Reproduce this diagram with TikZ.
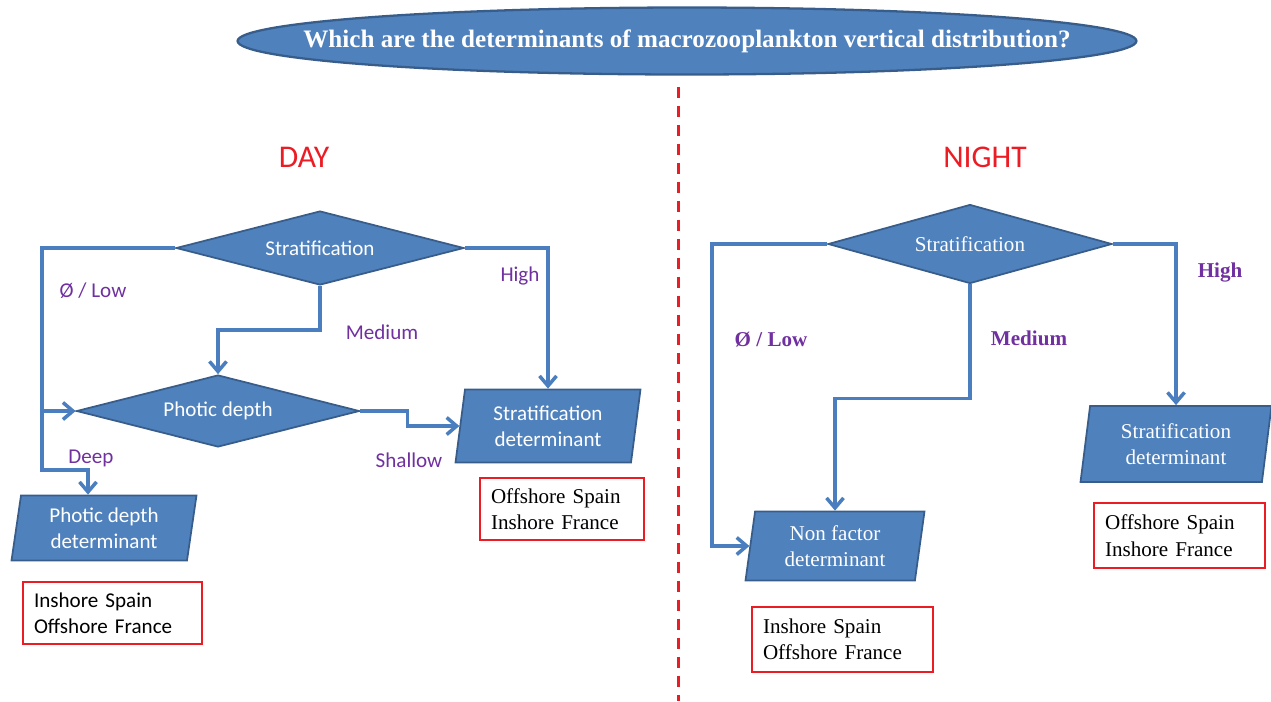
\documentclass[tikz,border=0pt]{standalone}
\usepackage{fontspec}
\setmainfont{Liberation Serif}
\newfontfamily\calibrifont{Carlito}
\usetikzlibrary{shapes.geometric,arrows.meta,calc}
\definecolor{ppblue}{RGB}{79,129,189}
\definecolor{ppborder}{RGB}{56,93,138}
\definecolor{pplink}{RGB}{74,126,190}
\definecolor{pppurple}{RGB}{112,48,160}
\definecolor{ppred}{RGB}{235,28,36}
\tikzset{
    decision/.style={
            diamond,
            draw=ppborder,
            fill=ppblue,
            line width=1pt,
            text=white,
            inner sep=0pt, % text sits in the middle
            aspect=3.9
        }
}
\tikzset{
    result/.style={
            trapezium,
            trapezium left angle=77,
            trapezium right angle=103,
            trapezium stretches body=true,
            draw=ppborder,
            fill=ppblue,
            line width=1pt,
            text=white,
            align=center,
            inner sep=0pt
        }
}
\tikzset{
    site/.style={
            draw=ppred,
            line width=0.8pt,
            align=left,
            inner xsep=0.22cm,
            text width={#1}
        },
    site/.default={2.8cm}
}
\tikzset{
    flow/.style={
            draw=pplink,
            line width=2pt,
            -{Straight Barb[length=2mm,width=3.4mm]}
        }
}
\tikzset{
    choice/.style={
            text=pppurple,
            inner sep=0pt
        }
}
\tikzset{
    sansfont/.style={font=\calibrifont\fontsize{12}{15}\selectfont},
    seriffont/.style={font=\fontsize{12}{15}\selectfont},
    boldfont/.style={font=\bfseries\fontsize{12}{15}\selectfont}
}

\begin{document}
\begin{tikzpicture}[x=0.02cm, y=-0.02cm]
    \useasboundingbox (0,0) rectangle (1271,701);
    %
    \node [ellipse, draw=ppborder, fill=ppblue, line width=1.3pt,
        minimum width=17.98cm, minimum height=1.34cm] (question) at (687,41) {};
    \node [text=white, font=\bfseries\fontsize{14.3}{16}\selectfont] (questiontext) at (question.center)
        {Which are the determinants of macrozooplankton vertical distribution?};
    %
    \coordinate (splittop) at (678,87);
    \coordinate (splitbot) at (678,701);
    \draw [ppred, line width=1.7pt, dash pattern=on 0.22cm off 0.16cm] (splittop) -- (splitbot);
    %
    \node [text=ppred, font=\calibrifont\fontsize{18}{20}\selectfont] (day) at (304,157) {DAY};
    \node [text=ppred, font=\calibrifont\fontsize{18}{20}\selectfont] (night) at (985,157) {NIGHT};
    %
    % day
    \node [decision, sansfont, minimum width=5.76cm, minimum height=1.48cm] (dstrat) at (320,248) {Stratification};
    \node [decision, sansfont, minimum width=5.66cm, minimum height=1.44cm] (dphot) at (218,411) {Photic depth};
    \node [result, sansfont, minimum width=3.7cm, minimum height=1.46cm] (dstratdet) at (548,426) {Stratification\\determinant};
    \node [result, sansfont, minimum width=3.7cm, minimum height=1.3cm] (dphotdet) at (104,528) {Photic depth\\determinant};
    \node [site=2.84cm, seriffont, minimum height=1.24cm] (dsiteoff) at (562,509) {Offshore Spain\\Inshore France};
    \node [site=3.14cm, sansfont, minimum height=1.24cm] (dsitein) at (112.5,613) {Inshore Spain\\Offshore France};
    %
    \coordinate (dlowbot) at (42,470);
    \coordinate (ddeep) at (88,470);
    \draw [flow] (dstrat.west) -| (dlowbot) -- (ddeep) -- (ddeep |- dphotdet.north);
    \draw [flow] (dlowbot |- dphot.west) -- (dphot.west);
    \draw [flow] (dstrat.south) -- ++(0,44) -| (dphot.north);
    \draw [flow] (dstrat.east) -| (dstratdet.north);
    \draw [flow] (dphot.east) -- ++(47,0) |- (dstratdet.west);
    %
    \node [choice, sansfont] (dlow) at (93,291) {Ø / Low};
    \node [choice, sansfont] (dhigh) at (520,276) {High};
    \node [choice, sansfont] (dmedium) at (382,332) {Medium};
    \node [choice, sansfont] (ddeeplabel) at (91,458) {Deep};
    \node [choice, sansfont] (dshallow) at (409,460) {Shallow};
    %
    % night
    \node [decision, seriffont, minimum width=5.68cm, minimum height=1.58cm] (nstrat) at (970,244) {Stratification};
    \node [result, seriffont, minimum width=3.58cm, minimum height=1.38cm] (nfactor) at (835,546) {Non factor\\determinant};
    \node [result, seriffont, minimum width=3.82cm, minimum height=1.52cm] (nstratdet) at (1176,444) {Stratification\\determinant};
    \node [site=2.98cm, seriffont, minimum height=1.3cm] (nsiteoff) at (1179.5,535.5) {Offshore Spain\\Inshore France};
    \node [site=3.18cm, seriffont, minimum height=1.3cm] (nsitein) at (842.5,639.5) {Inshore Spain\\Offshore France};
    %
    \draw [flow] (nstrat.west) -- ++(-115,0) |- (nfactor.west);
    \draw [flow] (nstrat.south) -- ++(0,114) -| (nfactor.north);
    \draw [flow] (nstrat.east) -| (nstratdet.north);
    %
    \node [choice, boldfont] (nlow) at (771,340) {Ø / Low};
    \node [choice, boldfont] (nmedium) at (1029,338) {Medium};
    \node [choice, boldfont] (nhigh) at (1220,273) {High};
\end{tikzpicture}
\end{document}
